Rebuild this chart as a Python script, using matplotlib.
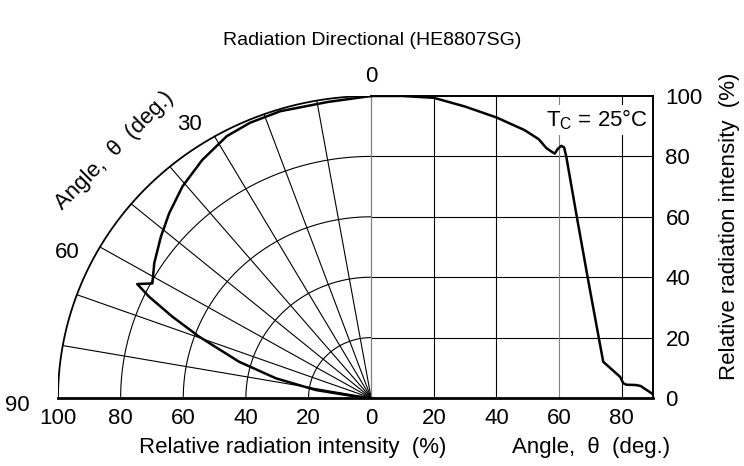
import numpy as np
import matplotlib
matplotlib.use('Agg')
import matplotlib.pyplot as plt

plt.rcParams['font.family'] = ['Liberation Sans', 'DejaVu Sans']
plt.rcParams['mathtext.default'] = 'regular'

# polar pattern (left half): angle in degrees, relative intensity in %
polar_deg = [0, 8, 17, 23, 28, 34.4, 40.7, 46.5, 51.5, 57.2, 61.5, 63.2,
             64.7, 67, 69.7, 74.1, 77.9, 81.5, 83.7, 90]
polar_r = [100, 99, 99.3, 99, 98.2, 95.5, 92.4, 88.9, 85.8, 82.4, 79.5, 83.7,
           78.4, 69, 58.6, 43.9, 31.1, 17.9, 6, 0]

# cartesian pattern (right half)
cart_deg = [0, 10, 20, 30, 40, 49, 53.5, 56, 58.6, 59.6, 60.7, 61.6, 62.3,
            65.5, 69.3, 74.1, 79.5, 80.5, 81.5, 84.5, 86, 89.5, 90]
cart_val = [100, 100, 99.4, 96.5, 92.9, 88.7, 85.7, 82.7, 80.9, 82.5, 83.5, 83,
            80, 61, 39, 12, 7, 4.9, 4.4, 4.3, 4, 1.6, 1.2]

rings = [20, 40, 60, 80, 100]
spokes = [10, 20, 30, 40, 50, 60, 70, 80]
left_ticks = [-100, -80, -60, -40, -20, 0]
left_labels = ['100', '80', '60', '40', '20', '0']
right_ticks = [20, 40, 60, 80]
y_ticks = [0, 20, 40, 60, 80, 100]

FS = 16

fig = plt.figure(figsize=(7.44, 4.66), dpi=100)
ax = fig.add_axes([58 / 744, 68 / 466, 595 / 744, 302 / 466])
ax.set_xlim(-100, 90)
ax.set_ylim(0, 100)

# polar grid
th = np.radians(np.linspace(0, 90, 200))
for r in rings:
    ax.plot(-r * np.sin(th), r * np.cos(th), color='black',
            lw=1.3 if r == 100 else 0.8, zorder=2)
for a in spokes:
    t = np.radians(a)
    ax.plot([0, -100 * np.sin(t)], [0, 100 * np.cos(t)], color='black', lw=0.8, zorder=2)

# cartesian grid
for v in [20, 40, 60, 80]:
    ax.plot([0, 90], [v, v], color='black', lw=0.8, zorder=2)
for v in right_ticks:
    ax.plot([v, v], [0, 100], color='#808080' if v == 60 else 'black', lw=0.8, zorder=2)
ax.plot([0, 0], [0, 100], color='#808080', lw=0.9, zorder=2)

# curves
pt = np.radians(polar_deg)
pr = np.array(polar_r)
ax.plot(-pr * np.sin(pt), pr * np.cos(pt), color='black', lw=1.8, zorder=4)
ax.plot(cart_deg, cart_val, color='black', lw=1.8, zorder=4)

# spines
ax.spines['left'].set_visible(False)
ax.spines['top'].set_bounds(0, 90)
ax.spines['top'].set_linewidth(1.4)
ax.spines['right'].set_linewidth(1.4)
ax.spines['bottom'].set_linewidth(2)

ax.set_xticks(left_ticks + right_ticks)
ax.set_xticklabels(left_labels + [str(t) for t in right_ticks])
ax.set_yticks(y_ticks)
ax.yaxis.tick_right()
ax.tick_params(length=0, labelsize=FS, pad=7)
ax.tick_params(axis='y', pad=9)

# polar angle labels
ax.text(0, 106.5, '0', ha='center', va='center', fontsize=FS, clip_on=False)
ax.text(-58, 90.5, '30', ha='center', va='center', fontsize=FS, clip_on=False)
ax.text(-97, 48.3, '60', ha='center', va='center', fontsize=FS, clip_on=False)
ax.text(-113, -2.5, '90', ha='center', va='center', fontsize=FS, clip_on=False)
ax.text(-82, 82, 'Angle,  θ  (deg.)', ha='center', va='center', rotation=45,
        fontsize=FS, clip_on=False)

ax.text(88.5, 92, 'T$_C$ = 25°C', ha='right', va='center', fontsize=FS, zorder=3,
        bbox=dict(facecolor='white', edgecolor='none', pad=2))

fig.text(0.5, 0.914, 'Radiation Directional (HE8807SG)', ha='center', va='center', fontsize=14)
fig.text(293 / 744, 18 / 466, 'Relative radiation intensity  (%)', ha='center', va='center',
         fontsize=FS)
fig.text(591 / 744, 18 / 466, 'Angle,  θ  (deg.)', ha='center', va='center', fontsize=FS)
fig.text(730 / 744, 240 / 466, 'Relative radiation intensity  (%)', ha='center', va='center',
         rotation=90, fontsize=FS)

fig.savefig('out.png', dpi=100)
